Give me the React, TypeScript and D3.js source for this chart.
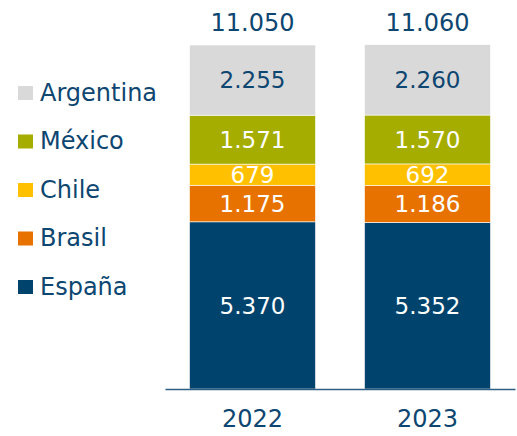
import React, { useEffect, useRef } from "react";
import * as d3 from "d3";

const years = ["2022", "2023"];
const countries = ["España", "Brasil", "Chile", "México", "Argentina"];
const espana = [5370, 5352];
const brasil = [1175, 1186];
const chile = [679, 692];
const mexico = [1571, 1570];
const argentina = [2255, 2260];
const totals = [11050, 11060];

const colors = ["#00446e", "#e87200", "#ffc000", "#a5ad00", "#d9d9d9"];
const labelColors = ["#fff", "#fff", "#fff", "#fff", "#0d4670"];
const textColor = "#0d4670";

const App = () => {
  const svgRef = useRef<SVGSVGElement>(null);

  useEffect(() => {
    const width = 517;
    const height = 436;
    const font = "'DejaVu Sans', sans-serif";
    const fmt = (v: number) => d3.format(",")(v).replace(/,/g, ".");

    d3.select(svgRef.current).selectAll("*").remove();
    const svg = d3
      .select(svgRef.current)
      .attr("width", width)
      .attr("height", height);

    const rows = years.map((yr, i) => ({
      year: yr,
      España: espana[i],
      Brasil: brasil[i],
      Chile: chile[i],
      México: mexico[i],
      Argentina: argentina[i],
    }));

    const series = d3.stack<any>().keys(countries)(rows);

    const x = d3
      .scaleBand()
      .domain(years)
      .range([165, 515])
      .paddingInner(0.28)
      .paddingOuter(0.14);

    const y = d3.scaleLinear().domain([0, 11050]).range([389, 45]);

    svg
      .append("g")
      .selectAll("g")
      .data(series)
      .join("g")
      .attr("fill", (_d, i) => colors[i])
      .each(function (s, si) {
        const g = d3.select(this);
        g.selectAll("rect")
          .data(s)
          .join("rect")
          .attr("x", (d: any) => x(d.data.year)!)
          .attr("y", (d) => y(d[1]))
          .attr("width", x.bandwidth())
          .attr("height", (d) => y(d[0]) - y(d[1]))
          .attr("stroke", "#fff")
          .attr("stroke-width", 0.6);
        g.selectAll("text")
          .data(s)
          .join("text")
          .attr("x", (d: any) => x(d.data.year)! + x.bandwidth() / 2)
          .attr("y", (d) => (y(d[0]) + y(d[1])) / 2)
          .attr("dy", "0.36em")
          .attr("text-anchor", "middle")
          .attr("font-family", font)
          .attr("font-size", 23)
          .attr("fill", labelColors[si])
          .text((d) => fmt(d[1] - d[0]));
      });

    // totals
    svg
      .append("g")
      .selectAll("text")
      .data(years)
      .join("text")
      .attr("x", (d) => x(d)! + x.bandwidth() / 2)
      .attr("y", 22)
      .attr("dy", "0.36em")
      .attr("text-anchor", "middle")
      .attr("font-family", font)
      .attr("font-size", 24)
      .attr("fill", textColor)
      .text((_d, i) => fmt(totals[i]));

    // baseline axis
    const axis = svg
      .append("g")
      .attr("transform", `translate(0,${y(0)})`)
      .call(d3.axisBottom(x).tickSize(0).tickPadding(21));
    axis.select(".domain").attr("stroke", "#2e5f86").attr("stroke-width", 1.5);
    axis
      .selectAll("text")
      .attr("font-family", font)
      .attr("font-size", 24)
      .attr("fill", textColor);

    // legend
    const legendItems = countries.slice().reverse();
    const legendColors = colors.slice().reverse();
    const lg = svg
      .append("g")
      .selectAll("g")
      .data(legendItems)
      .join("g")
      .attr("transform", (_d, i) => `translate(18,${92 + i * 48.5})`);
    lg.append("rect")
      .attr("x", 0)
      .attr("y", -6)
      .attr("width", 15)
      .attr("height", 14)
      .attr("fill", (_d, i) => legendColors[i]);
    lg.append("text")
      .attr("x", 22)
      .attr("dy", "0.36em")
      .attr("font-family", font)
      .attr("font-size", 24)
      .attr("fill", textColor)
      .text((d) => d);
  }, []);

  return (
    <svg
      ref={svgRef}
      style={{ position: "absolute", left: 0, top: 0, display: "block" }}
    ></svg>
  );
};

export default App;
